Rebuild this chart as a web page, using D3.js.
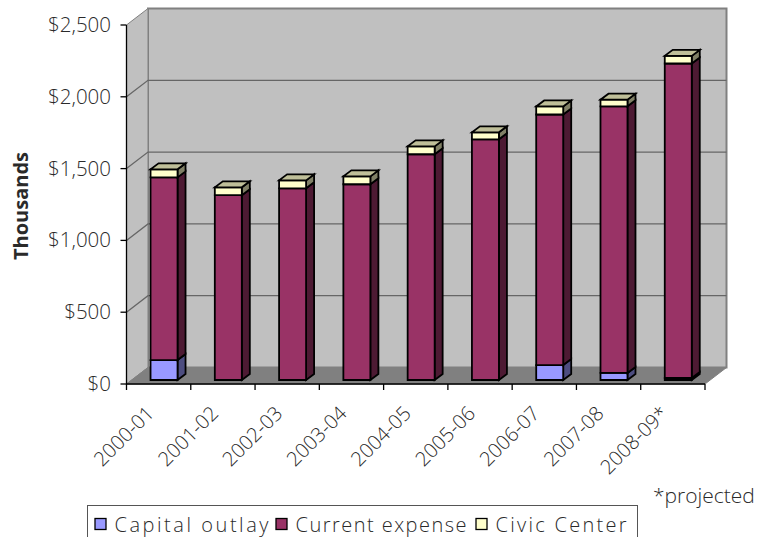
<!DOCTYPE html>
<html><head><meta charset="utf-8">
<script src="https://cdn.jsdelivr.net/npm/d3@7"></script>
<style>html,body{margin:0;padding:0;background:#fff}svg{display:block}text{font-family:"Open Sans",sans-serif;fill:#2a2a2a}</style>
</head><body><svg id="c" width="765" height="537"></svg>
<script>
const categories=["2000-01","2001-02","2002-03","2003-04","2004-05","2005-06","2006-07","2007-08","2008-09*"];
const capitalOutlay=[139,0,0,0,0,0,104,49,14];
const currentExpense=[1272,1287,1335,1363,1572,1676,1745,1857,2190];
const civicCenter=[56,55,55,55,55,49,56,46,53];
const yTicks=[0,500,1000,1500,2000,2500];
const seriesNames=["Capital outlay","Current expense","Civic Center"];
const seriesList=[capitalOutlay,currentExpense,civicCenter];
const front=["#9999ff","#993366","#ffffcc"],side=["#4d4d80","#4d1a33","#808066"],topc=["#7373bf","#732649","#bfbf99"];
const svg=d3.select("#c");
const x=d3.scaleBand().domain(categories).range([126.5,705]).padding(0);
const y=d3.scaleLinear().domain([0,2500]).range([384,25]);
const dx=21.5,dy=-16.5;
const poly=(pts,f,s,w)=>svg.append("polygon").attr("points",pts.map(p=>p.join(",")).join(" ")).attr("fill",f).attr("stroke",s||"none").attr("stroke-width",w||0);
const x0=x.range()[0],x1=x.range()[1],y0=y(0),yT=y(2500);
poly([[x0+dx,yT+dy],[x1+dx,yT+dy],[x1+dx,y0+dy],[x0+dx,y0+dy]],"#c0c0c0","#808080",2);
poly([[x0,yT],[x0+dx,yT+dy],[x0+dx,y0+dy],[x0,y0]],"#c0c0c0","#808080",1);
poly([[x0,y0],[x1,y0],[x1+dx,y0+dy],[x0+dx,y0+dy]],"#808080","#808080",1);
yTicks.slice(1,5).forEach(t=>{
  svg.append("path").attr("d",`M${x0},${y(t)}L${x0+dx},${y(t)+dy}L${x1+dx},${y(t)+dy}`).attr("fill","none").attr("stroke","#666").attr("stroke-width",1.3);
});
svg.append("path").attr("d",`M${x0},${yT}V${y0}H${x1}`).attr("fill","none").attr("stroke","#000").attr("stroke-width",1.3);
yTicks.forEach(t=>{
  svg.append("line").attr("x1",x0-6).attr("x2",x0).attr("y1",y(t)).attr("y2",y(t)).attr("stroke","#000").attr("stroke-width",1.3);
  svg.append("text").attr("x",111).attr("y",y(t)+7).attr("text-anchor","end").attr("font-size",20.5).attr("font-weight",300).text(d3.format("$,")(t));
});
categories.forEach((c,i)=>{
  const tx=x(c);
  svg.append("line").attr("x1",tx).attr("x2",tx).attr("y1",y0).attr("y2",y0+6).attr("stroke","#000").attr("stroke-width",1.3);
  const cx=tx+x.bandwidth()/2-14;
  svg.append("text").attr("transform",`translate(${cx},${y0+20}) rotate(-45)`).attr("text-anchor","end").attr("dy","0.75em").attr("font-size",20).attr("font-weight",300).text(c);
});
svg.append("path").attr("d",`M${x1},${y0}V${y0+6}`).attr("stroke","#000").attr("stroke-width",1.3);
const barW=27,bdx=8,bdy=-6,baseY=y0-4,off=5.4;
const k=(y(0)-y(1));
categories.forEach((c,i)=>{
  const bx=x(c)+x.bandwidth()/2+off-barW/2;
  let cum=0;
  seriesList.forEach((s,j)=>{
    const v=s[i]; if(v<=0)return;
    const by=baseY-cum*k, ty=baseY-(cum+v)*k;
    poly([[bx+barW,by],[bx+barW+bdx,by+bdy],[bx+barW+bdx,ty+bdy],[bx+barW,ty]],side[j],"#000",1.8);
    poly([[bx,by],[bx+barW,by],[bx+barW,ty],[bx,ty]],front[j],"#000",1.8);
    if(j===seriesList.length-1) poly([[bx,ty],[bx+barW,ty],[bx+barW+bdx,ty+bdy],[bx+bdx,ty+bdy]],topc[j],"#000",1.8);
    cum+=v;
  });
});
svg.append("text").attr("transform","translate(28,206) rotate(-90)").attr("text-anchor","middle").attr("font-size",20).attr("font-weight",700).attr("fill","#111").text("Thousands");
svg.append("text").attr("x",653).attr("y",503).attr("font-size",21).attr("font-weight",300).text("*projected");
svg.append("rect").attr("x",87.5).attr("y",505.5).attr("width",550).attr("height",40).attr("fill","#fff").attr("stroke","#555");
const lx=[95,276,476],tw=[154,171,131];
seriesNames.forEach((n,i)=>{
  svg.append("rect").attr("x",lx[i]).attr("y",518.5).attr("width",11).attr("height",11).attr("fill",front[i]).attr("stroke","#000").attr("stroke-width",1.3);
  svg.append("text").attr("x",lx[i]+19.5).attr("y",531.5).attr("font-size",20).attr("font-weight",300).attr("textLength",tw[i]).text(n);
});
</script></body></html>
